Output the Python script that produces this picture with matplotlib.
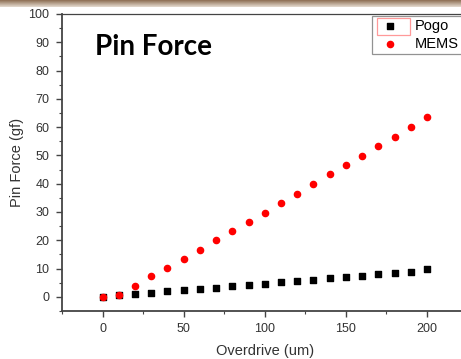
import matplotlib
matplotlib.use("Agg")
import matplotlib.pyplot as plt
from matplotlib.patches import Rectangle
import numpy as np

plt.rcParams.update({
    "font.family": "sans-serif",
    "font.sans-serif": ["Liberation Sans", "DejaVu Sans"],
})

overdrive = [0, 10, 20, 30, 40, 50, 60, 70, 80, 90, 100,
             110, 120, 130, 140, 150, 160, 170, 180, 190, 200]
pogo = [0.0, 0.5, 0.9, 1.5, 1.9, 2.4, 2.7, 3.3, 3.8, 4.2, 4.7,
        5.1, 5.5, 6.0, 6.5, 7.0, 7.5, 8.0, 8.5, 8.9, 9.8]
mems = [-0.2, 0.7, 3.9, 7.2, 10.2, 13.4, 16.6, 20.0, 23.3, 26.5, 29.8,
        33.1, 36.4, 39.9, 43.4, 46.6, 49.9, 53.4, 56.6, 60.1, 63.5]

W, H = 461, 359
fig = plt.figure(figsize=(W / 100, H / 100), dpi=100)

# slide header strip (brown gradient)
bar = fig.add_axes([0, 1 - 7 / H, 1, 7 / H])
grad = np.linspace(0, 1, 50).reshape(-1, 1)
top_col = np.array([0.55, 0.43, 0.32])
bot_col = np.array([0.90, 0.86, 0.82])
img = top_col + grad[..., None] * (bot_col - top_col)
bar.imshow(img, aspect="auto", extent=[0, 1, 0, 1])
bar.axis("off")

ax = fig.add_axes([62 / W, 1 - 311 / H, (467.5 - 62) / W, (311 - 14) / H])
ax.scatter(overdrive, pogo, marker="s", s=15, color="black", label="Pogo", zorder=3)
ax.scatter(overdrive, mems, marker="o", s=20, color="red", label="MEMS", zorder=4)

ax.set_xlim(-25, 225)
ax.set_ylim(-5, 100)
ax.set_xticks(np.arange(0, 201, 50))
ax.set_xticks(np.arange(-25, 226, 25), minor=True)
ax.set_yticks(np.arange(0, 101, 10))
ax.set_yticks(np.arange(-5, 101, 5), minor=True)

grey = "#444444"
for side in ["left", "bottom", "top", "right"]:
    ax.spines[side].set_color(grey)
ax.spines["left"].set_linewidth(1.3)
ax.spines["bottom"].set_linewidth(1.3)
ax.spines["top"].set_linewidth(0.9)
ax.tick_params(which="major", direction="out", length=4, width=1, colors=grey,
               labelsize=9, labelcolor="#333333", pad=5)
ax.tick_params(which="minor", direction="out", length=2.5, width=0.8, colors=grey)
ax.tick_params(top=False, right=False)

ax.set_xlabel("Overdrive (um)", fontsize=10.5, color="#333333", labelpad=6)
ax.set_ylabel("Pin Force (gf)", fontsize=10.5, color="#333333", labelpad=3)

fig.text(95 / W, 1 - 47 / H, "Pin Force", fontsize=20, fontweight="bold",
         family="Lato", va="center", ha="left")

leg = ax.legend(loc="upper left", bbox_to_anchor=(372 / W, 1 - 54 / H, 100 / W, 38 / H),
                bbox_transform=fig.transFigure, mode="expand",
                fontsize=10.5, frameon=True, fancybox=False, handletextpad=0.75,
                borderpad=0.2, labelspacing=0.3, handlelength=2.0, borderaxespad=0,
                markerscale=1.0)
leg.get_frame().set_edgecolor("#777777")
leg.get_frame().set_linewidth(0.9)

# pink selection box around the Pogo legend symbol
fig.patches.append(Rectangle((377 / W, 1 - 35 / H), 33 / W, 17 / H,
                             transform=fig.transFigure, fill=False,
                             edgecolor="#ff9999", linewidth=0.9, zorder=10))

fig.savefig("out.png", dpi=100)
